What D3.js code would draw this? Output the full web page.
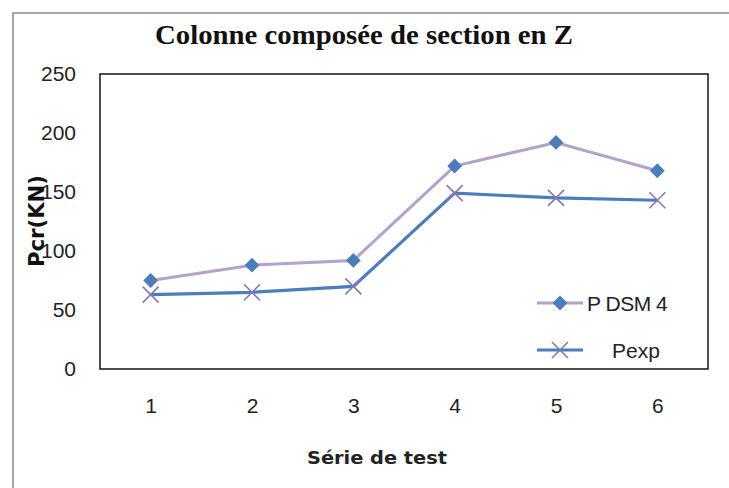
<!DOCTYPE html>
<html><head><meta charset="utf-8">
<script src="https://cdn.jsdelivr.net/npm/d3@7"></script>
<style>body{margin:0;background:#fff}svg{display:block}</style>
</head><body>
<svg id="c" width="729" height="488"></svg>
<script>
const categories = ["1","2","3","4","5","6"];
const pDSM4 = [75, 88, 92, 172, 192, 168];
const pExp = [63, 65, 70, 149, 145, 143];
const yTicks = [0, 50, 100, 150, 200, 250];
const seriesNames = ["P DSM 4", "Pexp"];

const svg = d3.select("#c");
const W = 729, H = 488;
const m = {left:100, right:21, top:74, bottom:118};
const iw = W - m.left - m.right, ih = H - m.top - m.bottom - 1;

// outer frame (left + top)
svg.append("path").attr("d", `M13,${H} L13,13 L${W},13`).attr("fill","none").attr("stroke","#8a8a8a").attr("stroke-width",1.5);

const x = d3.scalePoint().domain(categories).range([m.left, m.left+iw]).padding(0.5);
const y = d3.scaleLinear().domain([0,250]).range([m.top+ih, m.top]);

// plot border
svg.append("rect").attr("x",m.left).attr("y",m.top).attr("width",iw).attr("height",ih)
  .attr("fill","none").attr("stroke","#222").attr("stroke-width",1.6);

const tickFont = "Liberation Sans, Arial, sans-serif";
// y axis
const ya = svg.append("g").attr("transform",`translate(${m.left},0)`)
  .call(d3.axisLeft(y).tickValues(yTicks).tickSize(0).tickPadding(24));
ya.select(".domain").remove();
ya.selectAll("text").attr("font-family",tickFont).attr("font-size",21).attr("fill","#222");

// x axis
const xa = svg.append("g").attr("transform",`translate(0,${m.top+ih})`)
  .call(d3.axisBottom(x).tickSize(0).tickPadding(29));
xa.select(".domain").remove();
xa.selectAll("text").attr("font-family",tickFont).attr("font-size",21).attr("fill","#222");

// titles
svg.append("text").attr("x",364).attr("y",44).attr("text-anchor","middle")
  .attr("font-family","Liberation Serif, serif").attr("font-weight","bold").attr("font-size",27)
  .attr("textLength",418).attr("lengthAdjust","spacingAndGlyphs").attr("fill","#111")
  .text("Colonne composée de section en Z");
svg.append("text").attr("x",377).attr("y",464).attr("text-anchor","middle")
  .attr("font-family","DejaVu Sans, sans-serif").attr("font-weight","bold").attr("font-size",18)
  .attr("textLength",140).attr("lengthAdjust","spacingAndGlyphs")
  .attr("fill","#222").text("Série de test");
svg.append("text").attr("transform","translate(44,221) rotate(-90)").attr("text-anchor","middle")
  .attr("font-family","DejaVu Sans, sans-serif").attr("font-weight","bold").attr("font-size",22)
  .attr("textLength",92).attr("lengthAdjust","spacingAndGlyphs")
  .attr("fill","#111").text("Pcr(KN)");

const lavender = "#b3a2cc", blue = "#4a7ebb", purple = "#8f74b3";
const line = d3.line().x((d,i)=>x(categories[i])).y(d=>y(d));

svg.append("path").datum(pDSM4).attr("d",line).attr("fill","none").attr("stroke",lavender).attr("stroke-width",3);
svg.append("path").datum(pExp).attr("d",line).attr("fill","none").attr("stroke",blue).attr("stroke-width",3.2);

function drawDiamond(g, cx, cy){
  g.append("path").attr("d", d3.symbol().type(d3.symbolSquare).size(110)())
   .attr("transform",`translate(${cx},${cy}) rotate(45)`).attr("fill",blue);
}
function drawX(g, cx, cy){
  const s = 8;
  g.append("path").attr("d",`M${cx-s},${cy-s}L${cx+s},${cy+s}M${cx-s},${cy+s}L${cx+s},${cy-s}`)
   .attr("stroke",purple).attr("stroke-width",1.6).attr("fill","none");
}
const mk = svg.append("g");
pDSM4.forEach((v,i)=>drawDiamond(mk, x(categories[i]), y(v)));
pExp.forEach((v,i)=>drawX(mk, x(categories[i]), y(v)));

// legend
const lg = svg.append("g");
const lx0 = 537, lx1 = 583;
lg.append("line").attr("x1",lx0).attr("x2",lx1).attr("y1",303).attr("y2",303).attr("stroke",lavender).attr("stroke-width",3);
drawDiamond(lg,(lx0+lx1)/2,303);
lg.append("text").attr("x",587).attr("y",311).attr("font-family",tickFont).attr("font-size",21).attr("letter-spacing",-0.5).attr("fill","#222").text(seriesNames[0]);
lg.append("line").attr("x1",lx0).attr("x2",lx1).attr("y1",350).attr("y2",350).attr("stroke",blue).attr("stroke-width",3.2);
drawX(lg,(lx0+lx1)/2,350);
lg.append("text").attr("x",612).attr("y",358).attr("font-family",tickFont).attr("font-size",21).attr("fill","#222").text(seriesNames[1]);
</script>
</body></html>
